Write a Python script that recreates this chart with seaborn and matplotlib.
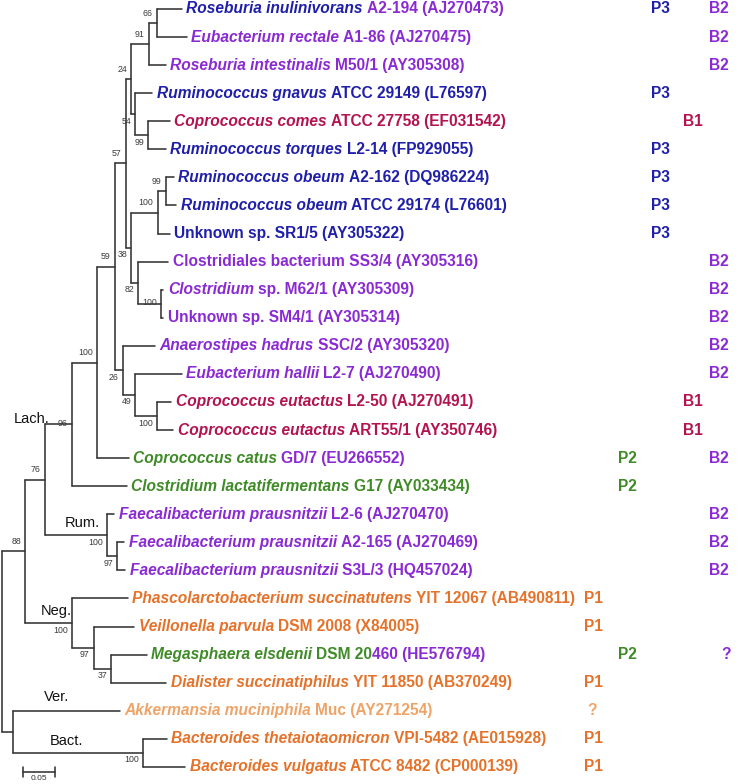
import matplotlib
matplotlib.use("Agg")
import matplotlib.pyplot as plt
import numpy as np
import pandas as pd
import seaborn as sns

# ------------------------------------------------------------------ data
# leaves, top to bottom
leaf_taxa = ["Roseburia inulinivorans", "Eubacterium rectale", "Roseburia intestinalis",
             "Ruminococcus gnavus", "Coprococcus comes", "Ruminococcus torques",
             "Ruminococcus obeum", "Ruminococcus obeum", "", "", "Clostridium", "",
             "Anaerostipes hadrus", "Eubacterium hallii", "Coprococcus eutactus",
             "Coprococcus eutactus", "Coprococcus catus", "Clostridium lactatifermentans",
             "Faecalibacterium prausnitzii", "Faecalibacterium prausnitzii",
             "Faecalibacterium prausnitzii", "Phascolarctobacterium succinatutens",
             "Veillonella parvula", "Megasphaera elsdenii", "Dialister succinatiphilus",
             "Akkermansia muciniphila", "Bacteroides thetaiotaomicron", "Bacteroides vulgatus"]
leaf_strains = ["A2-194 (AJ270473)", "A1-86 (AJ270475)", "M50/1 (AY305308)",
                "ATCC 29149 (L76597)", "ATCC 27758 (EF031542)", "L2-14 (FP929055)",
                "A2-162 (DQ986224)", "ATCC 29174 (L76601)", "Unknown sp. SR1/5 (AY305322)",
                "Clostridiales bacterium SS3/4 (AY305316)", "sp. M62/1 (AY305309)",
                "Unknown sp. SM4/1 (AY305314)", "SSC/2 (AY305320)", "L2-7 (AJ270490)",
                "L2-50 (AJ270491)", "ART55/1 (AY350746)", "GD/7 (EU266552)", "G17 (AY033434)",
                "L2-6 (AJ270470)", "A2-165 (AJ270469)", "S3L/3 (HQ457024)",
                "YIT 12067 (AB490811)", "DSM 2008 (X84005)", "DSM 20460 (HE576794)",
                "YIT 11850 (AB370249)", "Muc (AY271254)", "VPI-5482 (AE015928)",
                "ATCC 8482 (CP000139)"]
taxon_color = ["blue", "purple", "purple", "blue", "red", "blue", "blue", "blue", "blue",
               "purple", "purple", "purple", "purple", "purple", "red", "red", "green",
               "green", "purple", "purple", "purple", "orange", "orange", "green",
               "orange", "lorange", "orange", "orange"]
strain_color = ["purple", "purple", "purple", "blue", "red", "blue", "blue", "blue", "blue",
                "purple", "purple", "purple", "purple", "purple", "red", "red", "purple",
                "green", "purple", "purple", "purple", "orange", "orange", "green",
                "orange", "lorange", "orange", "orange"]
# strain text that changes colour part-way: leaf index -> (char position, new colour)
strain_split = {23: (6, "purple")}

p_group = ["P3", "", "", "P3", "", "P3", "P3", "P3", "P3", "", "", "", "", "", "", "",
           "P2", "P2", "", "", "", "P1", "P1", "P2", "P1", "?", "P1", "P1"]
b_group = ["B2", "B2", "B2", "", "B1", "", "", "", "", "B2", "B2", "B2", "B2", "B2", "B1",
           "B1", "B2", "", "B2", "B2", "B2", "", "", "?", "", "", "", ""]

# tree: node id, parent id, branch length (substitutions per site)
node_ids = ["root", "N88", "N76", "N96", "N100L", "N59", "N57", "N24", "N91", "N66",
            "L0", "L1", "L2", "N54", "L3", "N99a", "L4", "L5", "N38", "N100o", "N99o",
            "L6", "L7", "L8", "N82", "L9", "N100m", "L10", "L11", "N26", "L12", "N49",
            "L13", "N100e", "L14", "L15", "L16", "L17", "NRum", "L18", "N97F", "L19",
            "L20", "NNeg", "L21", "N97N", "L22", "N37", "L23", "L24", "NVB", "L25",
            "NBact", "L26", "L27"]
node_parents = [None, "root", "N88", "N76", "N96", "N100L", "N59", "N57", "N24", "N91",
                "N66", "N66", "N91", "N24", "N54", "N54", "N99a", "N99a", "N57", "N38",
                "N100o", "N99o", "N99o", "N100o", "N38", "N82", "N82", "N100m", "N100m",
                "N59", "N26", "N26", "N49", "N49", "N100e", "N100e", "N100L", "N96", "N76",
                "NRum", "NRum", "N97F", "N97F", "N88", "NNeg", "NNeg", "N97N", "N97N",
                "N37", "N37", "root", "NVB", "NVB", "NBact", "NBact"]
branch_lengths = [0.0, 0.036, 0.031, 0.042, 0.039, 0.028, 0.017, 0.009, 0.027, 0.0125,
                  0.039, 0.047, 0.027, 0.006, 0.027, 0.020, 0.034, 0.028, 0.009, 0.041,
                  0.0125, 0.0125, 0.017, 0.019, 0.011, 0.047, 0.036, 0.003, 0.003,
                  0.0125, 0.050, 0.020, 0.072, 0.034, 0.022, 0.025, 0.050, 0.086, 0.097,
                  0.011, 0.016, 0.011, 0.0125, 0.073, 0.0875, 0.034, 0.064, 0.028, 0.055,
                  0.086, 0.017, 0.167, 0.203, 0.0375, 0.066]

# bootstrap support
boot_nodes = ["N66", "N91", "N24", "N54", "N99a", "N57", "N99o", "N100o", "N59", "N38",
              "N82", "N100m", "N100L", "N26", "N49", "N100e", "N96", "N76", "N88", "NRum",
              "N97F", "NNeg", "N97N", "N37", "NBact"]
boot_values = [66, 91, 24, 54, 99, 57, 99, 100, 59, 38, 82, 100, 100, 26, 49, 100, 96, 76,
               88, 100, 97, 100, 97, 37, 100]
boot_place = ["a", "a", "a", "b", "b", "a", "a", "a", "a", "b", "b", "c", "a", "b", "b",
              "b", "c", "a", "a", "b", "b", "b", "b", "b", "b"]

clade_names = ["Lach.", "Rum.", "Neg.", "Ver.", "Bact."]
clade_nodes = ["N96", "NRum", "NNeg", "L25", "NBact"]

scale_bar_length = 0.05

# ------------------------------------------------------------------ style
palette = {"blue": "#1f1faa", "purple": "#8a2ad2", "red": "#b3134f",
           "green": "#3f8b27", "orange": "#e4722a", "lorange": "#eea468"}
p_color = {"P1": "orange", "P2": "green", "P3": "blue", "?": "lorange"}
b_color = {"B1": "red", "B2": "purple", "?": "purple"}

sns.set_style("white")
plt.rcParams["font.family"] = ["Liberation Sans", "DejaVu Sans"]

W, H, DPI = 738, 784, 100
PX_PER_UNIT = 640.0      # horizontal pixels per substitution/site
ROW = 28.07              # pixels per leaf row
X0, Y0 = 2.0, 9.0        # pixel position of root / first leaf
PT = 72.0 / DPI          # points per pixel

fig = plt.figure(figsize=(W / DPI, H / DPI), dpi=DPI)
ax = fig.add_axes([0, 0, 1, 1])

# ------------------------------------------------------------------ layout
parent = dict(zip(node_ids, node_parents))
blen = dict(zip(node_ids, branch_lengths))
children = {n: [] for n in node_ids}
for n, p in zip(node_ids, node_parents):
    if p is not None:
        children[p].append(n)

depth = {}
for n in node_ids:
    depth[n] = 0.0 if parent[n] is None else depth[parent[n]] + blen[n]

ypos = {}
def set_y(n):
    if not children[n]:
        ypos[n] = float(n[1:])
    else:
        ys = [set_y(c) for c in children[n]]
        ypos[n] = (min(ys) + max(ys)) / 2.0
    return ypos[n]
set_y("root")

rows = []
seg = 0
for n in node_ids:
    if parent[n] is not None:
        rows += [(seg, depth[parent[n]], ypos[n]), (seg, depth[n], ypos[n])]
        seg += 1
    if children[n]:
        ys = [ypos[c] for c in children[n]]
        rows += [(seg, depth[n], min(ys)), (seg, depth[n], max(ys))]
        seg += 1
# scale bar
sb_x, sb_y = 21.0 / PX_PER_UNIT, (772 - Y0) / ROW
tick = 5.0 / ROW
rows += [(seg, sb_x, sb_y), (seg, sb_x + scale_bar_length, sb_y)]; seg += 1
rows += [(seg, sb_x, sb_y - tick), (seg, sb_x, sb_y + tick)]; seg += 1
rows += [(seg, sb_x + scale_bar_length, sb_y - tick),
         (seg, sb_x + scale_bar_length, sb_y + tick)]; seg += 1
seg_df = pd.DataFrame(rows, columns=["seg", "x", "y"])

sns.lineplot(data=seg_df, x="x", y="y", units="seg", estimator=None, sort=False,
             color="#333333", linewidth=1.15, ax=ax, legend=False)
ax.set_xlim(-X0 / PX_PER_UNIT, (W - X0) / PX_PER_UNIT)
ax.set_ylim((H - Y0) / ROW, -Y0 / ROW)
ax.axis("off")

ax.annotate(f"{scale_bar_length:g}", xy=(sb_x + scale_bar_length / 2, sb_y),
            xytext=(0, -6.5 * PT), textcoords="offset points", ha="center", va="center",
            fontsize=6.0, color="#333333")

# ------------------------------------------------------------------ leaf labels
FS = 11.2
for i in range(len(leaf_taxa)):
    tip = f"L{i}"
    parts = []
    if leaf_taxa[i]:
        parts.append((leaf_taxa[i], palette[taxon_color[i]], "italic"))
    s = leaf_strains[i]
    if i in strain_split:
        k, c2 = strain_split[i]
        parts.append((s[:k], palette[strain_color[i]], "normal"))
        parts.append((s[k:], palette[c2], "normal"))
    else:
        parts.append((s, palette[strain_color[i]], "normal"))
    prev = None
    for j, (txt, col, sty) in enumerate(parts):
        if prev is None:
            prev = ax.annotate(txt, xy=(depth[tip], ypos[tip]), xytext=(4.5 * PT, 0),
                               textcoords="offset points", ha="left", va="center",
                               fontsize=FS, fontweight="bold", fontstyle=sty, color=col)
        else:
            gap = 0 if (i in strain_split and j == len(parts) - 1) else 3.0
            prev = ax.annotate(txt, xy=(1, 0), xycoords=prev, xytext=(gap, 0),
                               textcoords="offset points", ha="left", va="bottom",
                               fontsize=FS, fontweight="bold", fontstyle=sty, color=col)

# group columns
p_xpx = {"P1": 593, "P2": 627, "P3": 660, "?": 592}
b_xpx = {"B1": 693, "B2": 719, "?": 726}
for i in range(len(leaf_taxa)):
    if p_group[i]:
        ax.text((p_xpx[p_group[i]] - X0) / PX_PER_UNIT, i, p_group[i], ha="center",
                va="center", fontsize=FS, fontweight="bold",
                color=palette[p_color[p_group[i]]])
    if b_group[i]:
        ax.text((b_xpx[b_group[i]] - X0) / PX_PER_UNIT, i, b_group[i], ha="center",
                va="center", fontsize=FS, fontweight="bold",
                color=palette[b_color[b_group[i]]])

# bootstrap values
dy_px = {"a": -10, "b": 7, "c": -1}
for n, v, pl in zip(boot_nodes, boot_values, boot_place):
    ax.annotate(str(v), xy=(depth[n], ypos[n]), xytext=(-4 * PT, -dy_px[pl] * PT),
                textcoords="offset points", ha="right", va="center", fontsize=6.3,
                color="#3a3a3a")

# clade labels (offsets in px relative to the clade node)
clade_off = {"Lach.": (-22, -5, "right"), "Rum.": (-7, -12, "right"),
             "Neg.": (0, -12, "right"), "Ver.": (44, -14, "center"),
             "Bact.": (54, -12, "center")}
for name, n in zip(clade_names, clade_nodes):
    dx, dy, ha = clade_off[name]
    xref = depth[parent[n]] if name in ("Ver.", "Bact.") else depth[n]
    ax.annotate(name, xy=(xref, ypos[n]), xytext=(dx * PT, -dy * PT),
                textcoords="offset points", ha=ha, va="center", fontsize=10.5,
                color="#111111")

fig.savefig("out.png", dpi=DPI, facecolor="white")
